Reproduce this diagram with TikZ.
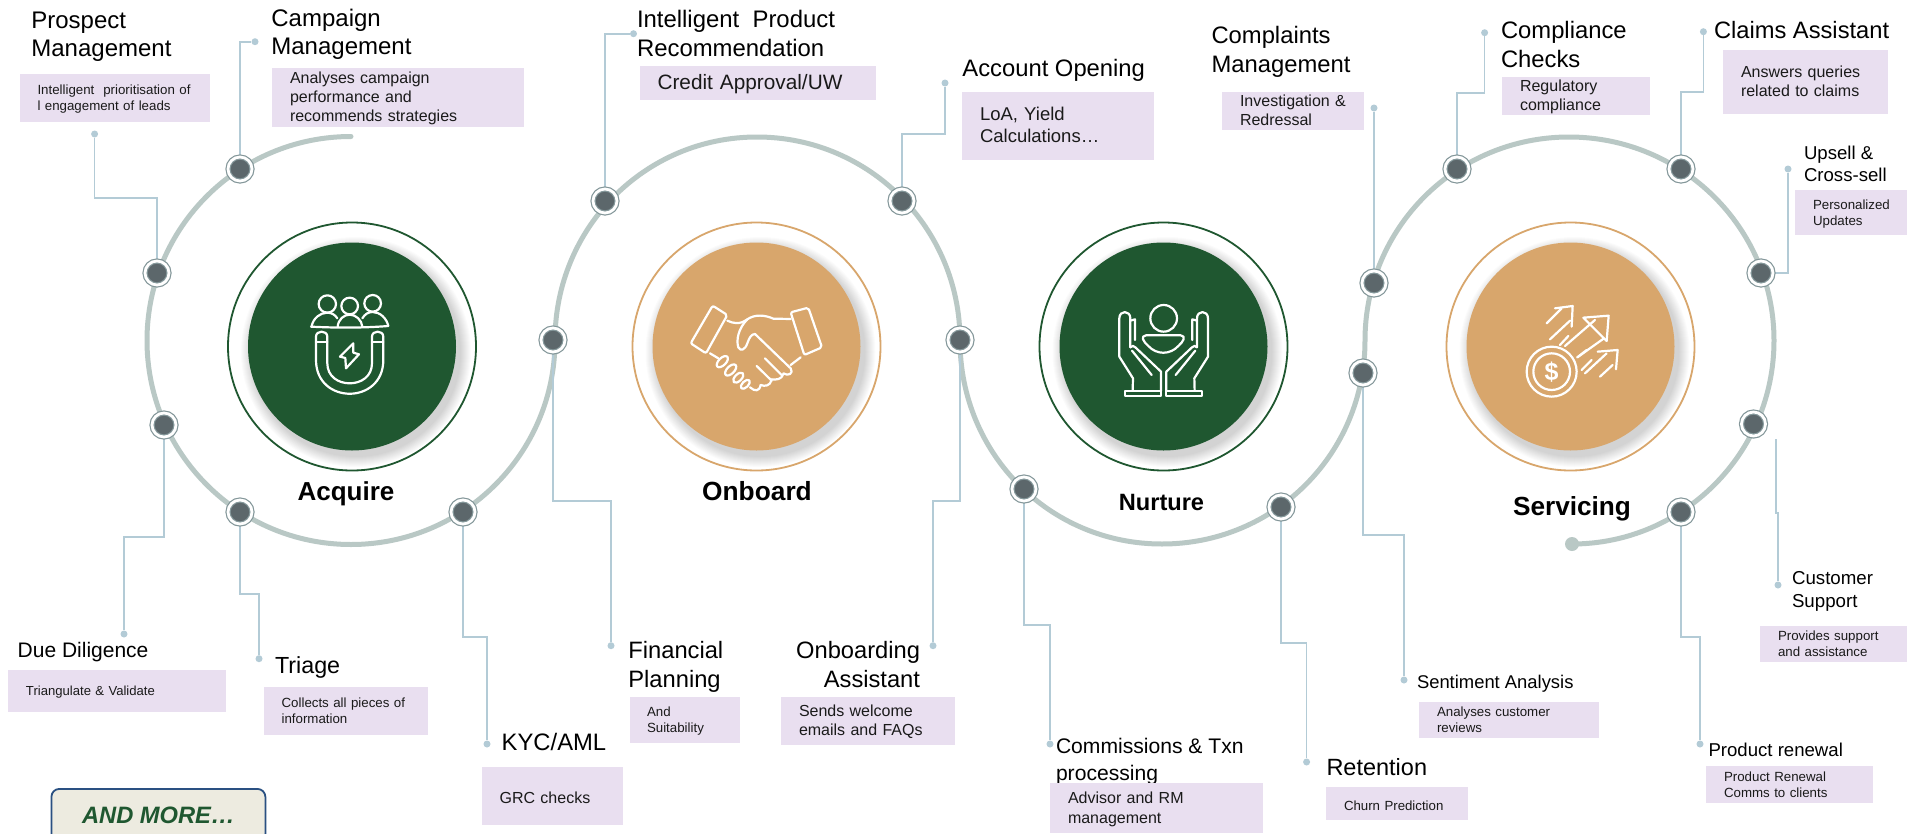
\documentclass[tikz,border=0pt]{standalone}
\usepackage{fontspec}
\setmainfont{Liberation Sans}
\usetikzlibrary{backgrounds}
\definecolor{ringc}{HTML}{B9C8C5}
\definecolor{connc}{HTML}{B3CBD6}
\definecolor{orangec}{HTML}{D8A66C}
\definecolor{greenc}{HTML}{1F5730}
\definecolor{lilac}{HTML}{E9DFF0}
\definecolor{hubc}{HTML}{5C676B}
\definecolor{hubr}{HTML}{84979A}
\definecolor{morefill}{HTML}{EDEBE0}
\definecolor{moreline}{HTML}{2A5082}
\definecolor{bodyc}{HTML}{1A1A1A}
\tikzset{
  hub/.style={circle,minimum size=24pt,inner sep=0pt,fill=hubc,draw=hubr,line width=1.2pt,double=white,double distance=2.8pt},
  pin/.style={circle,minimum size=7pt,inner sep=0pt,fill=connc},
  conn/.style={draw=connc,line width=1.7pt},
  ringline/.style={draw=ringc,line width=5pt,line cap=round},
  lblnode/.style={anchor=north west,inner sep=0pt,outer sep=0pt,align=left,text=black},
  lilacbox/.style={anchor=north west,fill=lilac,inner xsep=1pt,inner ysep=0pt,outer sep=0pt,text=bodyc},
  disc/.style={circle,inner sep=0pt,minimum size=208pt},
  halo/.style={circle,inner sep=0pt,minimum size=248pt,line width=1.8pt,fill=white},
  stage/.style={anchor=base,inner sep=0pt,font=\bfseries,text=black},
  icon/.style={color=white,line width=2.2pt,line cap=round,line join=round}
}
\newcommand{\bxraise}{-1.5pt}
% [opts]{name}{x}{baseline}{size}{skip}{text}
\newcommand{\ttl}[7][]{\node[lblnode,font=\fontsize{#5}{#6}\selectfont,#1] (#2) at (#3,{#4-0.7*#6}) {\strut #7};}
% {name}{x1}{y1}{x2}{y2}{textx}{size}{skip}{text}
\newcommand{\bx}[9]{%
  \pgfmathsetlengthmacro{\bxw}{#4-#2}\pgfmathsetlengthmacro{\bxh}{#5-#3}\pgfmathsetlengthmacro{\bxt}{#4-#2-2}\pgfmathsetlengthmacro{\bxl}{#6-#2-1}%
  \node[lilacbox,minimum width=\bxw,minimum height=\bxh,text width=\bxt,font=\fontsize{#7}{#8}\selectfont] (#1) at (#2,#3) {\noindent\hspace*{\bxl}\raisebox{\bxraise}[\height][\depth]{\begin{tabular}{@{}l@{}}#9\end{tabular}}};}
\newcommand{\stagecircle}[4]{% name,x,colour,(unused)
  \node[halo,draw=#3] (#1h) at (#2,346.5) {};
  \foreach \rr in {115,114,113,112,111,110,109,108,107,106,105}
    \fill[black,opacity=0.016] (#2+4,352) circle (\rr);
  \node[disc,fill=#3] (#1d) at (#2,346.5) {};
}
\begin{document}
\begin{tikzpicture}[x=1pt,y=-1pt]
\useasboundingbox (0,0) rectangle (1907,833);

% stage circles
\stagecircle{acq}{352}{greenc}{}
\stagecircle{onb}{756.5}{orangec}{}
\stagecircle{nur}{1163.5}{greenc}{}
\stagecircle{ser}{1570.5}{orangec}{}

% stage names
\node[stage,font=\bfseries\fontsize{26}{30}\selectfont] (tAcq) at (346,500) {Acquire};
\node[stage,font=\bfseries\fontsize{26.3}{30}\selectfont] (tOnb) at (757,500) {Onboard};
\node[stage,font=\bfseries\fontsize{23.6}{28}\selectfont] (tNur) at (1161.5,510) {Nurture};
\node[stage,font=\bfseries\fontsize{26.2}{30}\selectfont] (tSer) at (1572,515) {Servicing};

% hubs
\node[hub] (n1) at (157,273) {};
\node[hub] (n2) at (240,169) {};
\node[hub] (n3) at (164,425) {};
\node[hub] (n4) at (240,512) {};
\node[hub] (n5) at (463,512) {};
\node[hub] (n6) at (553,340) {};
\node[hub] (n7) at (605,201) {};
\node[hub] (n8) at (902,201) {};
\node[hub] (n9) at (960,340) {};
\node[hub] (n10) at (1024,489) {};
\node[hub] (n11) at (1281,507) {};
\node[hub] (n12) at (1363,373) {};
\node[hub] (n13) at (1374,283) {};
\node[hub] (n14) at (1457,169) {};
\node[hub] (n15) at (1681,169) {};
\node[hub] (n16) at (1761,273) {};
\node[hub] (n17) at (1753.5,424) {};
\node[hub] (n18) at (1681,512) {};

% connector ends
\node[pin] (p1) at (94.6,134) {};
\node[pin] (p2) at (255,41.7) {};
\node[pin] (p3) at (124,634) {};
\node[pin] (p4) at (259,658.7) {};
\node[pin] (p5) at (487,744) {};
\node[pin] (p6) at (611,645.7) {};
\node[pin] (p7) at (633.5,33.7) {};
\node[pin] (p8) at (945,83) {};
\node[pin] (p9) at (933,645.7) {};
\node[pin] (p10) at (1050,744) {};
\node[pin] (p11) at (1306.6,762) {};
\node[pin] (p12) at (1404,680) {};
\node[pin] (p13) at (1374,108) {};
\node[pin] (p14) at (1484.6,32.7) {};
\node[pin] (p15) at (1703.4,31.7) {};
\node[pin] (p16) at (1788,169) {};
\node[pin] (p17) at (1778,585) {};
\node[pin] (p18) at (1700,744) {};
\coordinate (c17) at (1776,439);

\begin{scope}[on background layer]
  \fill[white] (0,0) rectangle (1907,833);
  % ring
  \draw[ringline] (351,136.5)
    .. controls (238.3,136.5) and (147,227.8) .. (147,340.5)
    .. controls (147,453.2) and (238.3,544.5) .. (351,544.5)
    .. controls (463.7,544.5) and (555,453.2) .. (555,340.5)
    .. controls (555,227.8) and (645,137) .. (757,137)
    .. controls (869,137) and (960,227.8) .. (960,340.5)
    .. controls (960,453.2) and (1049,544) .. (1162,544)
    .. controls (1275,544) and (1365,453.2) .. (1365,340.5)
    .. controls (1365,227.8) and (1456,137) .. (1569,137)
    .. controls (1682,137) and (1774,227.8) .. (1774,340.5)
    .. controls (1774,453.2) and (1683,544) .. (1572,544);
  \fill[ringc] (1572,544) circle (7);
  % connectors
  \draw[conn] (p1) -- (94.6,197.7) -- (157,197.7) -- (n1);
  \draw[conn] (p2) -- (240,41.7) -- (n2);
  \draw[conn] (n3) -- (164,537) -- (124,537) -- (p3);
  \draw[conn] (n4) -- (240,593.7) -- (259,593.7) -- (p4);
  \draw[conn] (n5) -- (463,637) -- (487,637) -- (p5);
  \draw[conn] (n6) -- (553,501) -- (611,501) -- (p6);
  \draw[conn] (n7) -- (605,33.7) -- (p7);
  \draw[conn] (n8) -- (902,133.7) -- (945,133.7) -- (p8);
  \draw[conn] (n9) -- (960,501) -- (933,501) -- (p9);
  \draw[conn] (n10) -- (1024,625) -- (1050,625) -- (p10);
  \draw[conn] (n11) -- (1281,643) -- (1306.6,643) -- (p11);
  \draw[conn] (n12) -- (1363,535) -- (1404,535) -- (p12);
  \draw[conn] (n13) -- (p13);
  \draw[conn] (n14) -- (1457,92.7) -- (1484.6,92.7) -- (p14);
  \draw[conn] (n15) -- (1681,92) -- (1703.4,92) -- (p15);
  \draw[conn] (n16) -- (1788,273) -- (p16);
  \draw[conn] (c17) -- (1776,513) -- (1778,513) -- (p17);
  \draw[conn] (n18) -- (1681,637) -- (1700,637) -- (p18);
\end{scope}

% titles
\ttl{t1}{31.4}{28.5}{24}{28.3}{Prospect\\Management}
\ttl{t2}{271.4}{26}{24}{28.3}{Campaign\\Management}
\ttl{t3}{17.7}{657}{21}{25}{Due Diligence}
\ttl{t4}{275}{673}{23.3}{28}{Triage}
\ttl{t5}{501.7}{750}{23.8}{28}{KYC/AML}
\ttl{t6}{628.4}{658}{23.7}{29}{Financial\\Planning}
\ttl[anchor=north east,align=right]{t7}{920}{658}{23.7}{29}{Onboarding\\Assistant}
\ttl{t8}{1056}{753}{21.1}{27}{Commissions \& Txn\\processing}
\ttl{t9}{1326.5}{775}{23.5}{28}{Retention}
\ttl{t10}{1417}{688}{18.4}{22}{Sentiment Analysis}
\ttl{t11}{1792}{584.3}{18.7}{23}{Customer\\Support}
\ttl{t12}{1708.5}{756}{18.6}{22}{Product renewal}
\ttl{t13}{637}{27.3}{23.9}{29.4}{Intelligent\ \ Product\\Recommendation}
\ttl{t14}{962.4}{76.7}{23.8}{28}{Account Opening}
\ttl{t15}{1211.5}{43.3}{23.8}{29.4}{Complaints\\Management}
\ttl{t16}{1501}{38.3}{23.8}{29}{Compliance\\Checks}
\ttl{t17}{1714}{38.3}{23.7}{28}{Claims Assistant}
\ttl{t18}{1804}{159}{18.6}{22}{Upsell \&\\Cross-sell}

% boxes
\bx{b1}{20}{74}{210}{122}{37.5}{13.3}{16}{Intelligent\ \ prioritisation of\\l engagement of leads}
\bx{b2}{272}{68}{524}{127}{290}{16}{19}{Analyses campaign\\performance and\\recommends strategies}
\bx{b3}{8}{670}{226}{712}{26}{13.1}{16}{Triangulate \& Validate}
\bx{b4}{264}{686.7}{428}{735}{281.6}{13.3}{16}{Collects all pieces of\\information}
\renewcommand{\bxraise}{-3.5pt}
\bx{b5}{482}{766.7}{623}{825}{499.6}{16}{19}{GRC checks}
\bx{b9}{1326}{787}{1468}{820}{1344}{13.25}{16}{Churn Prediction}
\renewcommand{\bxraise}{-1.5pt}
\bx{b6}{630}{696.7}{739.6}{743}{647}{13.3}{16}{And\\Suitability}
\bx{b7}{781}{696.7}{954.7}{745}{799}{16}{19}{Sends welcome\\emails and FAQs}
\bx{b8}{1050}{783}{1263}{833}{1068}{16}{20}{Advisor and RM\\management}
\bx{b10}{1419}{702}{1598.6}{737.7}{1437}{13.3}{16}{Analyses customer\\reviews}
\bx{b11}{1760.4}{626}{1907}{661.7}{1778}{13.3}{16}{Provides support\\and assistance}
\bx{b12}{1705.7}{766}{1872.6}{803}{1724}{13.3}{16}{Product Renewal\\Comms to clients}
\bx{b13}{639.6}{66}{876}{99.7}{657.5}{20.8}{24}{Credit Approval/UW}
\bx{b14}{962}{92}{1154}{159.7}{980}{18.5}{22.3}{LoA, Yield\\Calculations…}
\bx{b15}{1222}{92}{1364}{129.3}{1240}{16}{19}{Investigation \&\\Redressal}
\bx{b16}{1501.7}{77}{1650}{114.3}{1520}{16}{19}{Regulatory\\compliance}
\bx{b17}{1723}{50}{1887.5}{113.7}{1741}{16}{19}{Answers queries\\related to claims}
\bx{b18}{1795}{190.3}{1907}{235.3}{1813}{13.3}{16}{Personalized\\Updates}

% AND MORE box
\begin{scope}
  \clip (0,0) rectangle (1907,833);
  \node[anchor=north west,draw=moreline,fill=morefill,line width=1.8pt,rounded corners=8pt,minimum width=214pt,minimum height=53pt,inner sep=0pt,text=greenc,font=\bfseries\itshape\fontsize{23.7}{28}\selectfont] (more) at (50.5,788) {AND MORE…};
\end{scope}

% Acquire icon
\begin{scope}[shift={(240,240)},x=0.3333pt,y=-0.3333pt,icon]
  \draw (262,192) circle (26);
  \draw (329,198) circle (25);
  \draw (398,190) circle (25);
  \draw (213,260) .. controls (290,264) and (370,264) .. (445,258);
  \draw (215,258) .. controls (220,235) and (240,218) .. (262,218) .. controls (275,218) and (285,224) .. (292,235);
  \draw (293,260) .. controls (295,238) and (312,224) .. (329,224) .. controls (348,224) and (365,240) .. (367,260);
  \draw (367,235) .. controls (375,222) and (385,216) .. (398,216) .. controls (420,216) and (440,235) .. (445,258);
  \draw (228,360) -- (228,290) .. controls (228,270) and (262,270) .. (262,290) -- (262,370) .. controls (262,450) and (396,450) .. (396,370) -- (396,290) .. controls (396,270) and (430,270) .. (430,290) -- (430,360) .. controls (430,495) and (228,495) .. (228,360) -- cycle;
  \draw (228,305) -- (262,305);
  \draw (396,305) -- (430,305);
  \draw (340,310) -- (300,350) -- (316,354) -- (318,385) -- (357,343) -- (340,338) -- cycle;
\end{scope}

% Onboard icon
\begin{scope}[shift={(670,260)},x=0.3333pt,y=-0.3333pt,icon]
  \draw[rounded corners=2pt] (128,137) -- (172,165) -- (108,280) -- (62,250) -- cycle;
  \draw[rounded corners=2pt] (362,157) -- (415,143) -- (456,262) -- (403,285) -- cycle;
  \draw (172,182) .. controls (190,190) and (208,195) .. (232,178) .. controls (255,162) and (285,165) .. (310,176) -- (362,177);
  \draw (232,178) .. controls (205,205) and (198,240) .. (205,262) .. controls (212,275) and (225,270) .. (232,250) .. controls (238,232) and (245,222) .. (255,222) -- (362,325) .. controls (372,340) and (355,350) .. (340,340);
  \draw (392,292) -- (362,315);
  \draw (285,295) -- (335,345);
  \draw (260,318) -- (305,362);
  \draw (340,342) .. controls (335,358) and (320,360) .. (305,358);
  \draw (305,360) .. controls (300,378) and (285,380) .. (272,375);
  \draw (272,375) .. controls (268,395) and (255,395) .. (240,382);
  \draw (120,280) -- (145,295);
  \draw (157,305) ellipse[x radius=21,y radius=11,rotate=45];
  \draw (182,330) ellipse[x radius=21,y radius=11,rotate=45];
  \draw (205,353) ellipse[x radius=19,y radius=10,rotate=45];
  \draw (226,373) ellipse[x radius=17,y radius=9,rotate=45];
\end{scope}

% Nurture icon
\begin{scope}[shift={(1090,260)},x=0.3333pt,y=-0.3333pt,icon]
  \draw (221,175) circle (40);
  \draw (168,226) -- (272,226) .. controls (290,228) and (280,245) .. (265,258) .. controls (240,285) and (200,285) .. (175,258) .. controls (160,245) and (150,228) .. (168,226) -- cycle;
  \foreach \s in {1,-1}{
    \begin{scope}[shift={(221,0)},xscale=\s]
      \draw (-116,392) rectangle (-8,408);
      \draw (-93,392) -- (-92,355) -- (-133,290) -- (-133,175) .. controls (-133,150) and (-100,150) .. (-100,175) -- (-100,262);
      \draw (-100,262) .. controls (-95,255) and (-90,258) .. (-85,262) -- (-8,335) -- (-8,392);
      \draw (-100,182) -- (-86,178) -- (-86,240);
      \draw (-95,272) -- (-36,345);
    \end{scope}
  }
\end{scope}

% Servicing icon
\begin{scope}[shift={(1490,270)},x=0.3333pt,y=-0.3333pt,icon]
  \draw (185,305) circle (75);
  \draw (185,305) circle (55);
  \node[text=white,font=\bfseries\fontsize{25}{25}\selectfont,inner sep=0pt] (dollar) at (185,307) {\$};
  \draw (280,143) -- (356,137) -- (350,213) -- cycle;
  \draw (225,228) -- (315,150);
  \draw (262,262) -- (342,205);
  \draw (195,115) -- (248,108) -- (245,170);
  \draw (170,160) -- (215,115);
  \draw (180,208) -- (240,152);
  \draw (210,225) -- (235,198);
  \draw (323,245) -- (383,240) -- (378,298);
  \draw (285,310) -- (350,250);
  \draw (330,320) -- (368,285);
  \draw (262,262) -- (290,240);
  \draw (275,300) -- (305,270);
\end{scope}
\end{tikzpicture}
\end{document}
